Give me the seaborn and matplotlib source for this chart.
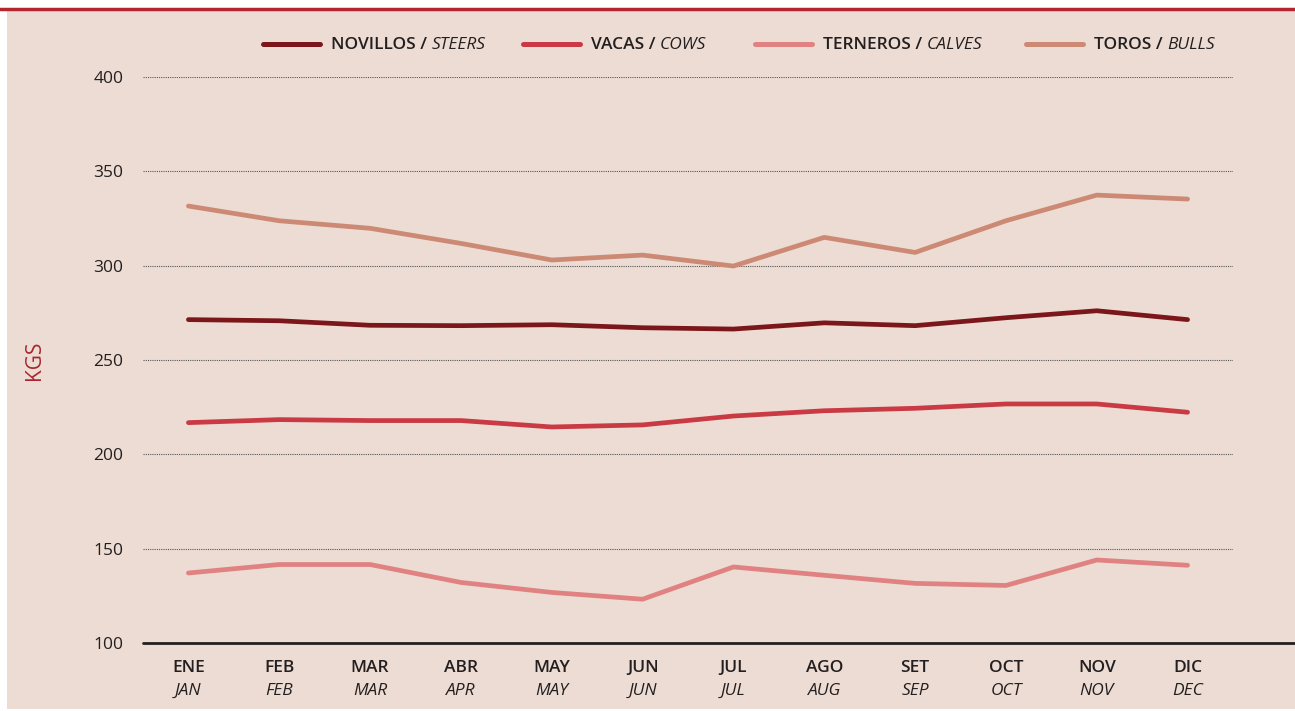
import numpy as np
import pandas as pd
import seaborn as sns
import matplotlib.pyplot as plt
from matplotlib.lines import Line2D
from matplotlib.patches import Rectangle

months_es = ['ENE', 'FEB', 'MAR', 'ABR', 'MAY', 'JUN', 'JUL', 'AGO', 'SET', 'OCT', 'NOV', 'DIC']
months_en = ['JAN', 'FEB', 'MAR', 'APR', 'MAY', 'JUN', 'JUL', 'AUG', 'SEP', 'OCT', 'NOV', 'DEC']

novillos = [271.4, 270.8, 268.4, 268.2, 268.7, 267.1, 266.4, 269.7, 268.2, 272.4, 276.1, 271.4]
vacas = [216.8, 218.4, 217.9, 217.9, 214.5, 215.6, 220.3, 223.1, 224.4, 226.7, 226.7, 222.3]
terneros = [137.1, 141.6, 141.6, 132.1, 126.8, 123.2, 140.3, 135.9, 131.6, 130.5, 144.0, 141.2]
toros = [331.6, 323.8, 319.8, 311.8, 303.0, 305.6, 299.8, 315.0, 307.0, 323.8, 337.4, 335.3]

series_es = ['NOVILLOS', 'VACAS', 'TERNEROS', 'TOROS']
series_en = ['STEERS', 'COWS', 'CALVES', 'BULLS']
colors = ['#7b161a', '#c93a44', '#e08282', '#cc8a75']

bg = '#eddcd3'

df = pd.DataFrame({
    'mes': list(range(12)) * 4,
    'kgs': novillos + vacas + terneros + toros,
    'serie': np.repeat(series_es, 12),
})

sns.set_theme(style='white')
plt.rcParams['font.family'] = ['Open Sans', 'DejaVu Sans']

W, H = 1295, 711
fig = plt.figure(figsize=(W / 100, H / 100), dpi=100, facecolor='white')
fig.patches.append(Rectangle((7 / W, 1 - 709 / H), 1 - 7 / W, (709 - 9) / H,
                             transform=fig.transFigure, facecolor=bg,
                             edgecolor='none', zorder=-5))
fig.lines.append(Line2D([0, 1], [1 - 9 / H] * 2, transform=fig.transFigure,
                        color='#b3262f', lw=2.5))

ax = fig.add_axes([143 / W, 1 - 643 / H, (1233 - 143) / W, (643 - 77) / H])
ax.set_facecolor('none')

sns.lineplot(data=df, x='mes', y='kgs', hue='serie', palette=colors,
             hue_order=series_es, linewidth=3.4, legend=False, ax=ax,
             solid_capstyle='round')

ax.set_xlim(-0.5, 11.5)
ax.set_ylim(100, 400)
ax.set_yticks([100, 150, 200, 250, 300, 350, 400])
ax.tick_params(axis='y', length=0, pad=14, labelsize=12.5, labelcolor='#231f20')
ax.set_xticks([])
ax.set_xlabel('')
for s in ax.spines.values():
    s.set_visible(False)
for yv in [150, 200, 250, 300, 350, 400]:
    ax.axhline(yv, color='#555555', lw=0.8, ls=(0, (1, 1)), zorder=0)

# baseline extends to the right edge of the picture
fig.lines.append(Line2D([143 / W, 1], [1 - 643 / H] * 2, transform=fig.transFigure,
                        color='#231f20', lw=2))

ax.set_ylabel('KGS', color='#a8262e', fontsize=15, labelpad=0, va='center')
ax.yaxis.set_label_coords((34 - 143) / (1233 - 143), 0.5)

trans = ax.get_xaxis_transform()
for i in range(12):
    ax.text(i, -0.0441, months_es[i], transform=trans, ha='center', va='center',
            fontsize=12.5, fontweight='semibold', color='#231f20')
    ax.text(i, -0.0848, months_en[i], transform=trans, ha='center', va='center',
            fontsize=12.5, fontstyle='italic', color='#231f20')

# legend drawn by hand: mixed upright / italic labels
leg_x = [263, 523, 755, 1026]
leg_y = 1 - 45 / H
fig.canvas.draw()
renderer = fig.canvas.get_renderer()
for k in range(4):
    x0 = leg_x[k]
    fig.lines.append(Line2D([x0 / W, (x0 + 57) / W], [1 - 44 / H] * 2,
                            transform=fig.transFigure, color=colors[k], lw=3.6,
                            solid_capstyle='round'))
    t = fig.text((x0 + 68) / W, leg_y, series_es[k] + ' / ', ha='left', va='center',
                 fontsize=12.5, fontweight='semibold', color='#231f20')
    bb = t.get_window_extent(renderer)
    fig.text(bb.x1 / W, leg_y, series_en[k], ha='left', va='center',
             fontsize=12.5, fontstyle='italic', color='#231f20')

fig.savefig('out.png', dpi=100, facecolor='white')
